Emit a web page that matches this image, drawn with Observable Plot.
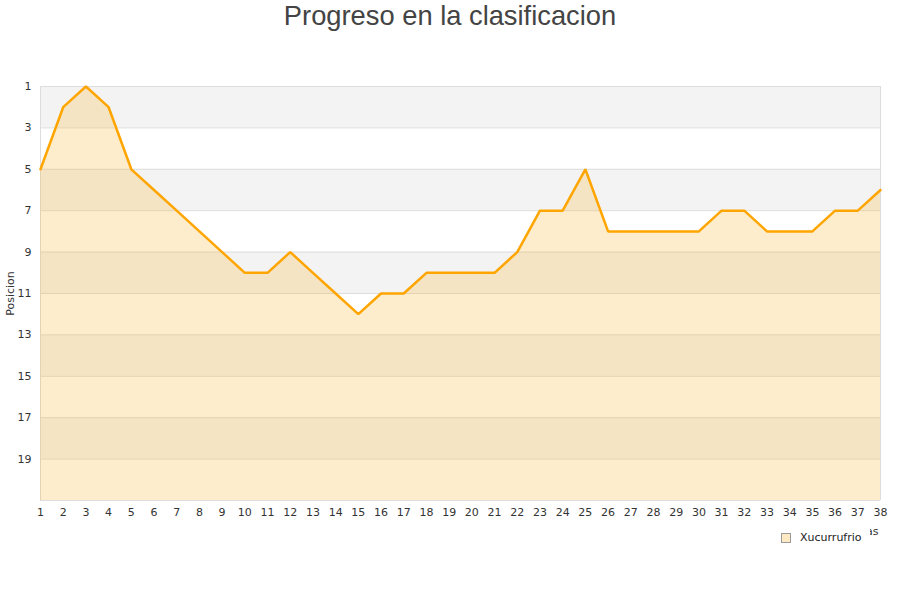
<!DOCTYPE html>
<html>
<head>
<meta charset="utf-8">
<script src="https://cdn.jsdelivr.net/npm/d3@7"></script>
<script src="https://cdn.jsdelivr.net/npm/@observablehq/plot@0.6"></script>
<style>
  body { margin: 0; background: #fff; width: 900px; height: 600px; position: relative; overflow: hidden; }
  #title { height: 50px; text-align: center; font-family: "Liberation Sans", Arial, sans-serif; font-size: 27.3px; color: #444; line-height: 32px; }
  #legend { position: absolute; left: 776px; top: 527px; background: #fff; padding: 4px 8px 4px 5px; font-family: "DejaVu Sans", sans-serif; font-size: 11px; color: #222; display: flex; align-items: center; }
  #legend .sw { width: 8px; height: 8px; background: #fde9c3; border: 1px solid #999; margin-right: 9px; }
  svg { display: block; }
</style>
</head>
<body>
<div id="title">Progreso en la clasificacion</div>
<div id="chart"></div>
<div id="legend"><span class="sw"></span>Xucurrufrio</div>
<script>
const jornadas = d3.range(1, 39);
const posiciones = [5, 2, 1, 2, 5, 6, 7, 8, 9, 10, 10, 9, 10, 11, 12, 11, 11, 10, 10, 10,
                    10, 9, 7, 7, 5, 8, 8, 8, 8, 8, 7, 7, 8, 8, 8, 7, 7, 6];
const yTicks = [1, 3, 5, 7, 9, 11, 13, 15, 17, 19];
const bandStarts = [1, 5, 9, 13, 17];
const xLabel = "Jornadas";
const yLabel = "Posicion";

const data = jornadas.map((j, i) => ({ jornada: j, pos: posiciones[i] }));
const bands = bandStarts.map(b => ({ y1: b, y2: b + 2 }));

const chart = Plot.plot({
  width: 900,
  height: 550,
  marginTop: 36,
  marginBottom: 100,
  marginLeft: 40,
  marginRight: 20,
  style: { fontFamily: "DejaVu Sans, sans-serif", fontSize: "11px", color: "#333", background: "#fff", overflow: "visible" },
  x: { domain: [1, 38], ticks: jornadas, tickSize: 0, tickPadding: 8, tickFormat: d => String(d), label: null },
  y: { domain: [21, 1], ticks: yTicks, tickSize: 0, tickPadding: 9, label: yLabel, labelAnchor: "center", labelArrow: "none", labelOffset: 34 },
  marks: [
    Plot.rect(bands, { x1: 1, x2: 38, y1: "y1", y2: "y2", fill: "#f3f3f3" }),
    Plot.ruleY(yTicks, { x1: 1, x2: 38, stroke: "#dddddd", strokeWidth: 1 }),
    Plot.ruleX([1, 38], { y1: 1, y2: 21, stroke: "#dddddd", strokeWidth: 1 }),
    Plot.ruleY([21], { x1: 1, x2: 38, stroke: "#dddddd", strokeWidth: 1 }),
    Plot.areaY(data, { x: "jornada", y1: 21, y2: "pos", fill: "#fbb733", fillOpacity: 0.25 }),
    Plot.lineY(data, { x: "jornada", y: "pos", stroke: "#ffa500", strokeWidth: 2.5, strokeLinejoin: "miter" }),
    Plot.text([xLabel], { frameAnchor: "bottom-right", textAnchor: "end", dx: -2, dy: 34, fill: "#333", fontSize: 11 })
  ]
});
document.getElementById("chart").appendChild(chart);
</script>
</body>
</html>
